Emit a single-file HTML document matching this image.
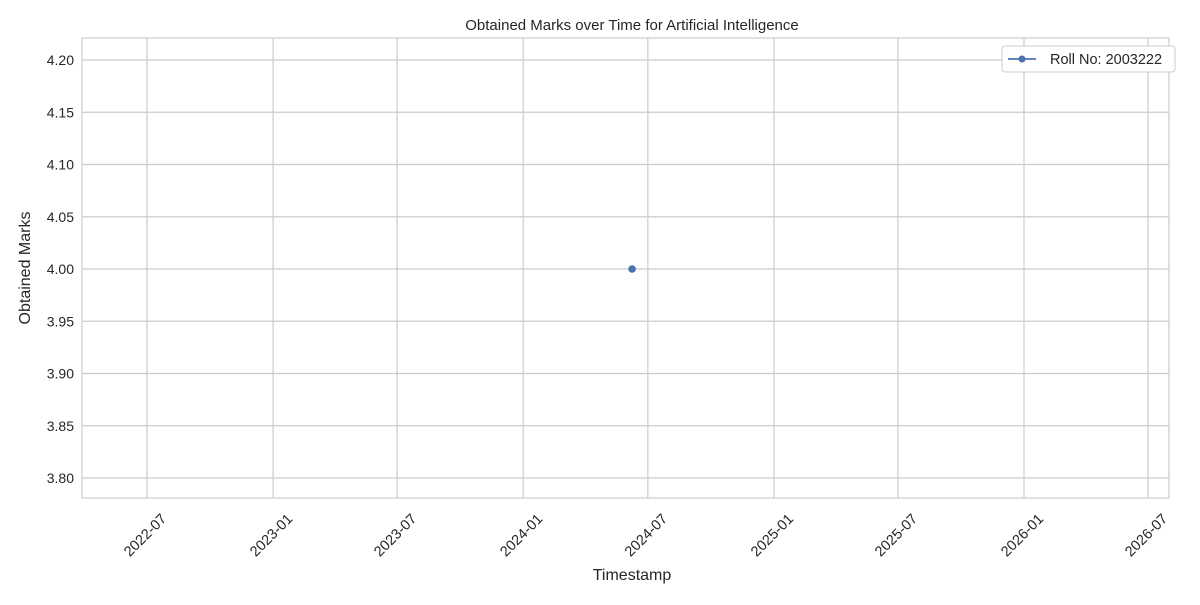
<!DOCTYPE html>
<html><head><meta charset="utf-8">
<style>
body{margin:0;background:#fff;font-family:"Liberation Sans","DejaVu Sans",sans-serif;}
svg text{font-family:"Liberation Sans","DejaVu Sans",sans-serif;fill:#262626;}
</style></head>
<body>
<svg id="chart" width="1200" height="600" xmlns="http://www.w3.org/2000/svg">
<rect x="0" y="0" width="1200" height="600" fill="#fff"/>
<g id="grid"></g>
<rect x="82" y="38" width="1087" height="460" fill="none" stroke="#cccccc" stroke-width="1.2"/>
<g id="marks"></g>
<text x="632" y="30" font-size="15" text-anchor="middle">Obtained Marks over Time for Artificial Intelligence</text>
<text x="632" y="580" font-size="16" text-anchor="middle">Timestamp</text>
<text transform="translate(30,268) rotate(-90)" font-size="16" text-anchor="middle">Obtained Marks</text>
<g>
<rect x="1002" y="46" width="173" height="26" rx="3" fill="#fff" stroke="#cccccc"/>
<line x1="1008" y1="59" x2="1036" y2="59" stroke="#4c72b0" stroke-width="1.8"/>
<circle cx="1022" cy="59" r="3.5" fill="#4c72b0"/>
<text x="1050" y="64" font-size="14.5">Roll No: 2003222</text>
</g>
</svg>
<script>
const seriesDates = ["2024-06-08"];
const seriesValues = [4.00];
const yTicks = [3.80,3.85,3.90,3.95,4.00,4.05,4.10,4.15,4.20];
const xTicks = ["2022-07","2023-01","2023-07","2024-01","2024-07","2025-01","2025-07","2026-01","2026-07"];
const NS="http://www.w3.org/2000/svg";
const d0=Date.UTC(2022,6,1), d1=Date.UTC(2026,6,1);
function parse(s){const p=s.split("-").map(Number);return Date.UTC(p[0],p[1]-1,p[2]||1);}
function xs(t){return 147+(t-d0)/(d1-d0)*(1148-147);}
function ys(v){return 478-(v-3.80)/(0.40)*(478-60);}
function mk(tag,attrs,parent){const e=document.createElementNS(NS,tag);for(const k in attrs)e.setAttribute(k,attrs[k]);parent.appendChild(e);return e;}
const grid=document.getElementById("grid"), marks=document.getElementById("marks");
yTicks.forEach(v=>{
 const y=ys(v);
 const l=mk("line",{x1:82,x2:1169,y1:y,y2:y,stroke:"#cccccc","stroke-width":1.2},grid);
 
 
 const t=mk("text",{x:74,y:y+5,"font-size":14,"text-anchor":"end"},grid);
 
 
 t.textContent=v.toFixed(2);
});
xTicks.forEach(s=>{
 const x=xs(parse(s));
 const l=mk("line",{x1:x,x2:x,y1:38,y2:498,stroke:"#cccccc","stroke-width":1.2},grid);
 
 
 const cx=x-2, cy=535;
 const t=mk("text",{x:cx,y:cy+5,"font-size":14.5,"text-anchor":"middle",transform:`rotate(-45 ${cx} ${cy})`},grid);
 
 
 t.textContent=s;
});
if(seriesDates.length>1){
 const pts=seriesDates.map((d,i)=>xs(parse(d))+","+ys(seriesValues[i])).join(" ");
 const pl=mk("polyline",{points:pts,fill:"none",stroke:"#4c72b0","stroke-width":1.8},marks);
 
 
}
seriesDates.forEach((d,i)=>{
 const c=mk("circle",{cx:xs(parse(d)),cy:ys(seriesValues[i]),r:3.8,fill:"#4c72b0"},marks);
 
 
});
</script>
</body></html>
